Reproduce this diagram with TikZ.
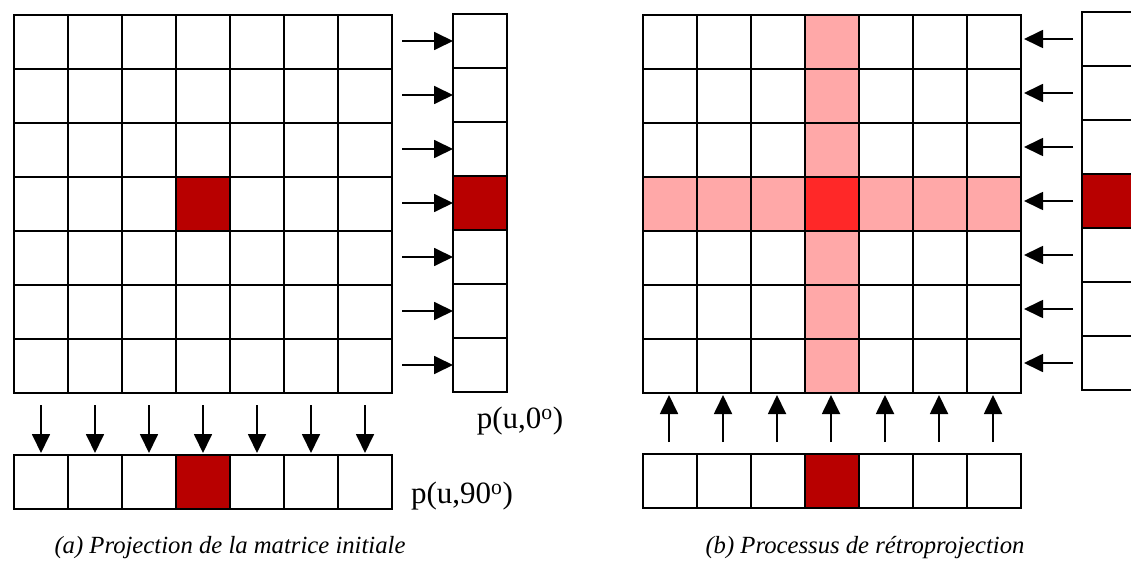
\documentclass[tikz,border=0pt]{standalone}
\usepackage{fontspec}
\setmainfont{Liberation Serif}
\usetikzlibrary{arrows.meta}
\definecolor{darkred}{RGB}{184,0,0}
\definecolor{lightred}{RGB}{255,168,168}
\definecolor{brightred}{RGB}{255,40,40}
\tikzset{
  cell/.style={draw, line width=1.5pt, minimum size=54pt, inner sep=0pt, outer sep=0pt},
  proj/.style={line width=1.8pt, -{Triangle[length=19pt,width=18pt]}},
  lbl/.style={font=\fontsize{31}{34}\selectfont, inner sep=0pt},
  legende/.style={font=\fontsize{24.7}{28}\selectfont\itshape, inner sep=0pt}
}
\begin{document}
\begin{tikzpicture}[x=1pt,y=-1pt]
		\useasboundingbox (0,0) rectangle (1131,569);
		
		% (a) matrice initiale
		\foreach \i in {1,...,7}
		\foreach \j in {1,...,7} {
			\ifnum\i=4 \ifnum\j=4 \def\c{darkred}\else\def\c{white}\fi\else\def\c{white}\fi
			\node[cell, fill=\c] (a-\i-\j) at ({41+54*(\j-1)},{42+54*(\i-1)}) {};
		}
		
		% projection a 0 degres
		\foreach \i in {1,...,7} {
			\ifnum\i=4 \def\c{darkred}\else\def\c{white}\fi
			\node[cell, fill=\c] (p0-\i) at (480,{41+54*(\i-1)}) {};
			\coordinate (h-\i) at (402,{41+54*(\i-1)});
			\draw[proj] (h-\i) -- (p0-\i.west);
		}
		
		% projection a 90 degres
		\foreach \j in {1,...,7} {
			\ifnum\j=4 \def\c{darkred}\else\def\c{white}\fi
			\node[cell, fill=\c] (p90-\j) at ({41+54*(\j-1)},482) {};
			\coordinate (v-\j) at ({41+54*(\j-1)},405);
			\draw[proj, shorten >=2pt] (v-\j) -- (p90-\j.north);
		}
		
		% (b) retroprojection
		\foreach \i in {1,...,7}
		\foreach \j in {1,...,7} {
			\def\c{white}
			\ifnum\i=4 \def\c{lightred}\fi
			\ifnum\j=4 \def\c{lightred}\fi
			\ifnum\i=4 \ifnum\j=4 \def\c{brightred}\fi\fi
			\node[cell, fill=\c] (b-\i-\j) at ({670+54*(\j-1)},{42+54*(\i-1)}) {};
		}
		
		\foreach \i in {1,...,7} {
			\ifnum\i=4 \def\c{darkred}\else\def\c{white}\fi
			\node[cell, fill=\c] (q0-\i) at (1109,{39+54*(\i-1)}) {};
			\coordinate (hb-\i) at (1073,{39+54*(\i-1)});
			\draw[proj, shorten >=3pt] (hb-\i) -- (hb-\i -| b-\i-7.east);
		}
		
		\foreach \j in {1,...,7} {
			\ifnum\j=4 \def\c{darkred}\else\def\c{white}\fi
			\node[cell, fill=\c] (q90-\j) at ({670+54*(\j-1)},481) {};
			\coordinate (vb-\j) at ({669+54*(\j-1)},442);
			\draw[proj, shorten >=2pt] (vb-\j) -- (vb-\j |- b-7-\j.south);
		}
		
		% Labels
		\node[lbl] (lab0) at (520,421) {p(u,0\textsuperscript{o})};
		\node[lbl] (lab90) at (462,496) {p(u,90\textsuperscript{o})};
		\node[legende] (capa) at (230,548) {(a) Projection de la matrice initiale};
		\node[legende] (capb) at (865,548) {(b) Processus de rétroprojection};
	\end{tikzpicture}
\end{document}
